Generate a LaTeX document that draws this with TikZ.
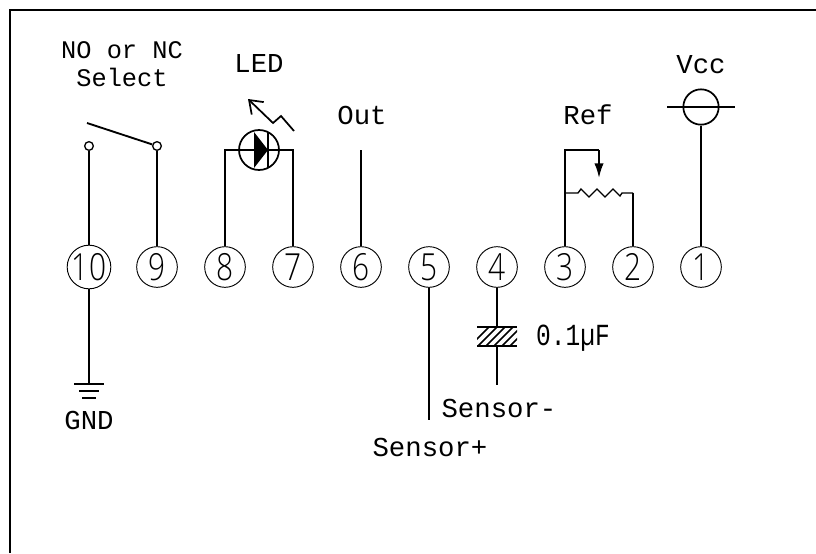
\documentclass[tikz,border=0pt]{standalone}
\usepackage{fontspec}
\setmainfont{Liberation Mono}
\newfontfamily\pinfont[UprightFont=* Light,FakeStretch=0.8]{Open Sans}
\newfontfamily\valuefont[FakeStretch=0.8]{Liberation Mono}
\usetikzlibrary{arrows.meta}
\usetikzlibrary{calc}
\tikzstyle{pin}=[circle,draw,line width=0.7pt,minimum size=30.5pt,inner sep=0pt,font=\pinfont\fontsize{28}{28}\selectfont]
\tikzstyle{terminal}=[circle,draw,line width=1pt,fill=white,minimum size=6.5pt,inner sep=0pt]
\tikzstyle{ledbody}=[circle,draw,line width=1.3pt,minimum size=30pt,inner sep=0pt]
\tikzstyle{railbody}=[circle,draw,line width=1.3pt,minimum size=26.5pt,inner sep=0pt]
\tikzstyle{caption}=[inner sep=0pt,align=center,font=\fontsize{20.5}{21}\selectfont]
\tikzstyle{wire} = [draw,line width=1.4pt]
\tikzstyle{thinwire} = [draw,line width=1pt]
\tikzstyle{frame} = [draw,line width=1.5pt]

\begin{document}
\begin{tikzpicture}[x=0.75pt,y=-0.75pt]
  \useasboundingbox (0,0) rectangle (816,553);

  \path[frame] (10,553) -- (10,10) -- (816,10);

  % pins along the row
  \foreach \pos/\name/\label in {{(89,267)/pinj/10}, {(157,267)/pini/9}, {(225,267)/pinh/8}, {(293,267)/ping/7}, {(361,267)/pinf/6}, {(429,267)/pine/5}, {(497,267)/pind/4}, {(565,267)/pinc/3}, {(633,267)/pinb/2}, {(701,267)/pina/1}}
        \node[pin] (\name) at \pos {\label};

  % labels
  \foreach \pos/\name/\label in {{(259,63)/lblled/LED}, {(362,115)/lblout/Out}, {(588,115)/lblref/Ref}, {(701,65)/lblvcc/Vcc}, {(89,420)/lblgnd/GND}, {(499,408)/lblminus/Sensor-}, {(430,447)/lblplus/Sensor+}}
        \node[caption] (\name) at \pos {\label};
  \node[caption,font=\fontsize{19}{21}\selectfont] (lblselect) at (122,64) {NO or NC\\Select};
  \node[caption,font=\valuefont\fontsize{23}{23}\selectfont] (lblcap) at (573,338) {0.1µF};

  % switch
  \node[terminal] (swa) at (89,146) {};
  \node[terminal] (swb) at (157,146) {};
  \coordinate (swfree) at (87,123);
  \path[wire] (pinj) -- (swa);
  \path[wire] (pini) -- (swb);
  \path[wire] (swfree) -- (swb);

  % led
  \node[ledbody] (led) at (259,150) {};
  \coordinate (ledl) at (225,150);
  \coordinate (ledr) at (293,150);
  \path[wire] (pinh) -- (ledl) -- (ledr) -- (ping);
  \fill (254,132) -- (268,150) -- (254,168) -- cycle;
  \draw[thinwire] (268,132) -- (268,168);
  \draw[line width=1.3pt,{Straight Barb[length=9pt,width=13pt]}-] (248,99) -- (273,123) -- (281,116) -- (294,131);

  % out
  \coordinate (outend) at (361,150);
  \path[wire] (pinf) -- (outend);

  % ref
  \coordinate (refa) at (565,150);
  \coordinate (refb) at (599,150);
  \coordinate (reftip) at (599,178);
  \coordinate (refc) at (565,193);
  \coordinate (refd) at (633,193);
  \path[wire] (pinc) -- (refa) -- (refb);
  \draw[line width=1.4pt,-{Latex[length=11pt,width=7pt]}] (refb) -- (reftip);
  \draw[thinwire] (refc) -- (578,193) -- (581,189) -- (589,197) -- (597,189) -- (605,197) -- (613,189) -- (620,196) -- (622,193) -- (refd);
  \path[wire] (refd) -- (pinb);

  % vcc
  \node[railbody] (vcc) at (701,107) {};
  \coordinate (vccl) at (667,107);
  \coordinate (vccr) at (735,107);
  \path[wire] (vccl) -- (vccr);
  \path[wire] (vcc) -- (pina);

  % gnd
  \coordinate (gndtop) at (89,384);
  \path[wire] (pinj) -- (gndtop);
  \draw[thinwire] (74,384) -- (104,384);
  \draw[thinwire] (79,391) -- (99,391);
  \draw[thinwire] (82,398) -- (96,398);

  % sensor lines
  \coordinate (plusend) at (429,420);
  \coordinate (captop) at (497,327);
  \coordinate (capbot) at (497,346);
  \coordinate (minusend) at (497,385);
  \path[wire] (pine) -- (plusend);
  \path[wire] (pind) -- (captop);
  \path[wire] (capbot) -- (minusend);

  % capacitor
  \begin{scope}
    \clip (477,327) rectangle (517,346);
    \foreach \x in {470,478,...,518}
        \draw[line width=1.2pt] (\x,346) -- (\x+19,327);
  \end{scope}
  \draw[wire] (477,327) -- (517,327);
  \draw[wire] (477,346) -- (517,346);

\end{tikzpicture}
\end{document}
